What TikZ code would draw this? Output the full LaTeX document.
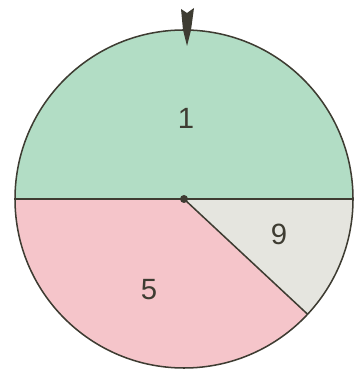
\documentclass[tikz,border=0pt]{standalone}
\usepackage{fontspec}
\setmainfont{Liberation Sans}
\definecolor{spingreen}{RGB}{178,221,197}
\definecolor{spinpink}{RGB}{245,197,202}
\definecolor{spingray}{RGB}{229,229,223}
\definecolor{spinline}{RGB}{62,60,50}
\begin{document}
\begin{tikzpicture}[x=0.03cm,y=0.03cm,every node/.style={font=\fontsize{25}{30}\selectfont,text=spinline}]
\useasboundingbox (0,0) rectangle (353,372);
\coordinate (c) at (184,173);
\coordinate (w) at ([shift={(180:169)}]c);
\coordinate (e) at ([shift={(0:169)}]c);
\coordinate (s) at ([shift={(-43:169)}]c);
% sectors
\fill[spingreen] (c) -- (w) arc[start angle=180,end angle=0,radius=169] -- cycle;
\fill[spinpink] (c) -- (w) arc[start angle=180,end angle=317,radius=169] -- cycle;
\fill[spingray] (c) -- (s) arc[start angle=-43,end angle=0,radius=169] -- cycle;
% rim and dividers
\draw[spinline,line width=1.3pt] (c) circle (169);
\draw[spinline,line width=1.3pt] (w) -- (e);
\draw[spinline,line width=1.3pt] (c) -- (s);
\fill[spinline] (c) circle (4);
% pointer
\fill[spinline] (181,363) -- (187,359) -- (194,364) -- (191,342) -- (187,326) -- (183,342) -- cycle;
\node (one) at (186,254) {1};
\node (nine) at (279,138) {9};
\node (five) at (149,82) {5};
\end{tikzpicture}
\end{document}
